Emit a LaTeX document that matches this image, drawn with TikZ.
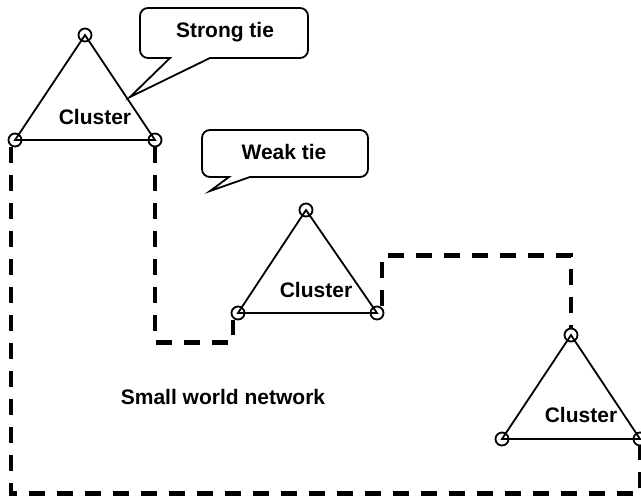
\documentclass[tikz,border=0pt]{standalone}
\usepackage{fontspec}
\setmainfont{Liberation Sans}
\begin{document}
\begin{tikzpicture}[x=1pt,y=1pt,
  lbl/.style={font=\fontsize{21}{25}\selectfont\bfseries, inner sep=0pt},
  vtx/.style={circle, draw, line width=1.8pt, minimum size=13pt, inner sep=0pt},
  edge/.style={line width=1.8pt},
  weakline/.style={line width=4.5pt, dash pattern=on 16pt off 12pt},
  callbox/.style={line width=1.8pt, line join=miter}
]
\useasboundingbox (0,0) rectangle (641,-499);
% cluster 1
\coordinate (p1t) at (85,-35);
\coordinate (p1l) at (15,-140);
\coordinate (p1r) at (155,-140);
\draw[edge] (p1t) -- (p1l) -- (p1r) -- cycle;
\node[vtx] (c1t) at (p1t) {};
\node[vtx] (c1l) at (p1l) {};
\node[vtx] (c1r) at (p1r) {};
\node[lbl] (k1) at (95,-117) {Cluster};
% cluster 2
\coordinate (p2t) at (306,-210);
\coordinate (p2l) at (238,-313);
\coordinate (p2r) at (377,-313);
\draw[edge] (p2t) -- (p2l) -- (p2r) -- cycle;
\node[vtx] (c2t) at (p2t) {};
\node[vtx] (c2l) at (p2l) {};
\node[vtx] (c2r) at (p2r) {};
\node[lbl] (k2) at (316,-290) {Cluster};
% cluster 3
\coordinate (p3t) at (571,-335);
\coordinate (p3l) at (502,-439);
\coordinate (p3r) at (640,-439);
\draw[edge] (p3t) -- (p3l) -- (p3r) -- cycle;
\node[vtx] (c3t) at (p3t) {};
\node[vtx] (c3l) at (p3l) {};
\node[vtx] (c3r) at (p3r) {};
\node[lbl] (k3) at (581,-415) {Cluster};
% weak ties
\draw[weakline] ([xshift=-4pt]c1l.south) -- ++(0,-346) -| (c3r.south);
\draw[weakline] (c1r.south) -- ++(0,-195) -| ([xshift=-5pt]c2l.south);
\draw[weakline] ([xshift=5pt]c2r.north) -- ++(0,50) -| (c3t.north);
% callouts
\draw[callbox] (130,-97) -- (210,-58) [rounded corners=8pt] -- (308,-58) -- (308,-8) -- (140,-8) -- (140,-58) [sharp corners] -- (170,-58) -- cycle;
\node[lbl] (st) at (225,-32) {Strong tie};
\draw[callbox] (210,-191) -- (250,-177) [rounded corners=8pt] -- (368,-177) -- (368,-130) -- (202,-130) -- (202,-177) [sharp corners] -- (229,-177) -- cycle;
\node[lbl] (wt) at (284,-152) {Weak tie};
% label
\node[lbl] (sw) at (223,-397) {Small world network};
\end{tikzpicture}
\end{document}
